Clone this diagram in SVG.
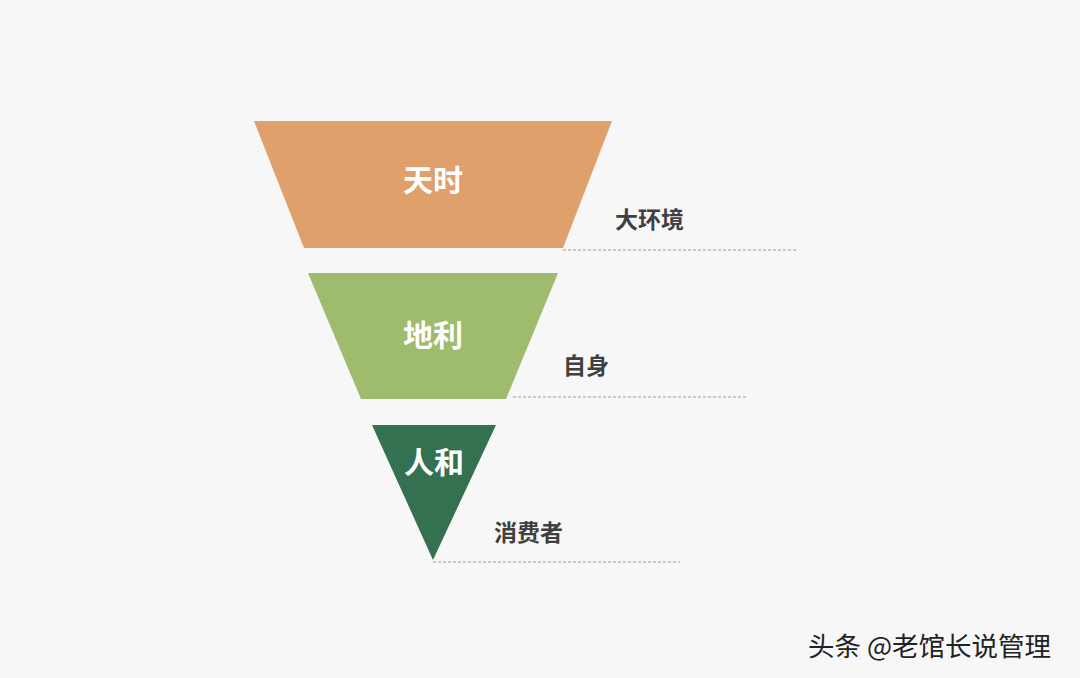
<svg xmlns="http://www.w3.org/2000/svg" width="1080" height="678" viewBox="0 0 1080 678">
<style>
.t{font-family:"Liberation Sans","Noto Sans CJK SC",sans-serif;font-weight:bold;}
.in{fill:#fff;font-size:30px;}
.lb{fill:#404040;font-size:23px;}
.dl{stroke:#999;stroke-width:1;stroke-dasharray:3,2;fill:none;}
</style>
<rect width="1080" height="678" fill="#f7f7f7"/>
<g id="tianshi">
<polygon points="254,121 612,121 563,248 304,248" fill="#e0a06c"/>
<text class="t in" x="433" y="191" text-anchor="middle">天时</text>
</g>
<g id="dili">
<polygon points="308,273 558,273 506,399 361,399" fill="#9ebb6e"/>
<text class="t in" x="433" y="346" text-anchor="middle">地利</text>
</g>
<g id="renhe">
<polygon points="372,425 496,425 433,560" fill="#347151"/>
<text class="t in" x="434" y="473" text-anchor="middle">人和</text>
</g>
<g id="connectors">
<line class="dl" x1="563" y1="250" x2="797" y2="250"/>
<line class="dl" x1="513" y1="397" x2="747" y2="397"/>
<line class="dl" x1="433" y1="562" x2="680" y2="562"/>
</g>
<g id="labels">
<text class="t lb" x="615" y="228">大环境</text>
<text class="t lb" x="563" y="374">自身</text>
<text class="t lb" x="494" y="541">消费者</text>
</g>
<text x="808" y="656" style="font-family:'Noto Sans CJK SC',sans-serif;font-size:26.5px;fill:#222;">头条 @老馆长说管理</text>
</svg>
